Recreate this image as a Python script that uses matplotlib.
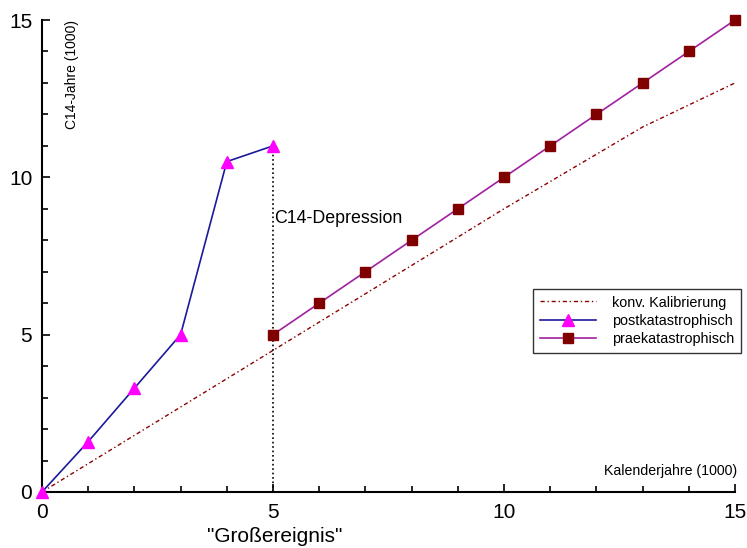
import numpy as np
import matplotlib.pyplot as plt

plt.rcParams['font.family'] = ['Liberation Sans', 'DejaVu Sans']

# konventionelle Kalibrierung
kal_x = [0, 2, 5, 8, 10, 13, 15]
kal_y = [0, 1.8, 4.5, 7.2, 9.0, 11.6, 13.0]

# postkatastrophisch
post_x = [0, 1, 2, 3, 4, 5]
post_y = [0, 1.6, 3.3, 5.0, 10.5, 11.0]

# praekatastrophisch
prae_x = [5, 6, 7, 8, 9, 10, 11, 12, 13, 14, 15]
prae_y = [5, 6, 7, 8, 9, 10, 11, 12, 13, 14, 15]

fig = plt.figure(figsize=(7.47, 5.48), dpi=100)
ax = fig.add_axes((0.0562, 0.1022, 0.9278, 0.8613))

ax.plot(kal_x, kal_y, color='#8b0000', lw=1.0, ls=(0, (3, 2, 1, 2)),
        label='konv. Kalibrierung', clip_on=False)
ax.plot(post_x, post_y, color='#1a1a9a', lw=1.2, marker='^', ms=8,
        mfc='#ff00ff', mec='#ff00ff', label='postkatastrophisch', zorder=3,
        clip_on=False)
ax.plot(prae_x, prae_y, color='#a020a0', lw=1.2, marker='s', ms=7.5,
        mfc='#800000', mec='#800000', label='praekatastrophisch', zorder=3,
        clip_on=False)
ax.plot([5, 5], [0, post_y[-1]], color='black', lw=1.2, ls=':', zorder=2)

ax.set_xlim(0, 15)
ax.set_ylim(0, 15)
ax.set_xticks([0, 5, 10, 15])
ax.set_yticks([0, 5, 10, 15])
ax.set_xticks(np.arange(0, 16, 1), minor=True)
ax.set_yticks(np.arange(0, 16, 1), minor=True)
ax.tick_params(which='both', direction='in', labelsize=15, width=1.2)
ax.tick_params(which='major', length=6)
ax.tick_params(which='minor', length=4)
ax.tick_params(axis='x', which='major', pad=8)
ax.tick_params(axis='y', which='major', pad=7)
for s in ['top', 'right']:
    ax.spines[s].set_visible(False)
for s in ['left', 'bottom']:
    ax.spines[s].set_linewidth(1.5)

ax.text(0.65, 15, 'C14-Jahre (1000)', rotation=90, ha='center', va='top',
        fontsize=10)
ax.text(15.05, 0.45, 'Kalenderjahre (1000)', ha='right', va='bottom',
        fontsize=10.2)
ax.text(5.02, 8.7, 'C14-Depression', ha='left', va='center', fontsize=12.8)
ax.text(5.04, -0.095, '"Großereignis"', ha='center', va='center',
        fontsize=15, transform=ax.get_xaxis_transform())

leg = ax.legend(loc='upper left', bbox_to_anchor=(0.709, 0.43), fontsize=10.4,
                frameon=True, fancybox=False, borderpad=0.45, labelspacing=0.3,
                handlelength=3.9, handletextpad=1.1, borderaxespad=0)
leg.get_frame().set_edgecolor('black')
leg.get_frame().set_linewidth(1.0)

fig.savefig('out.png', dpi=100)
